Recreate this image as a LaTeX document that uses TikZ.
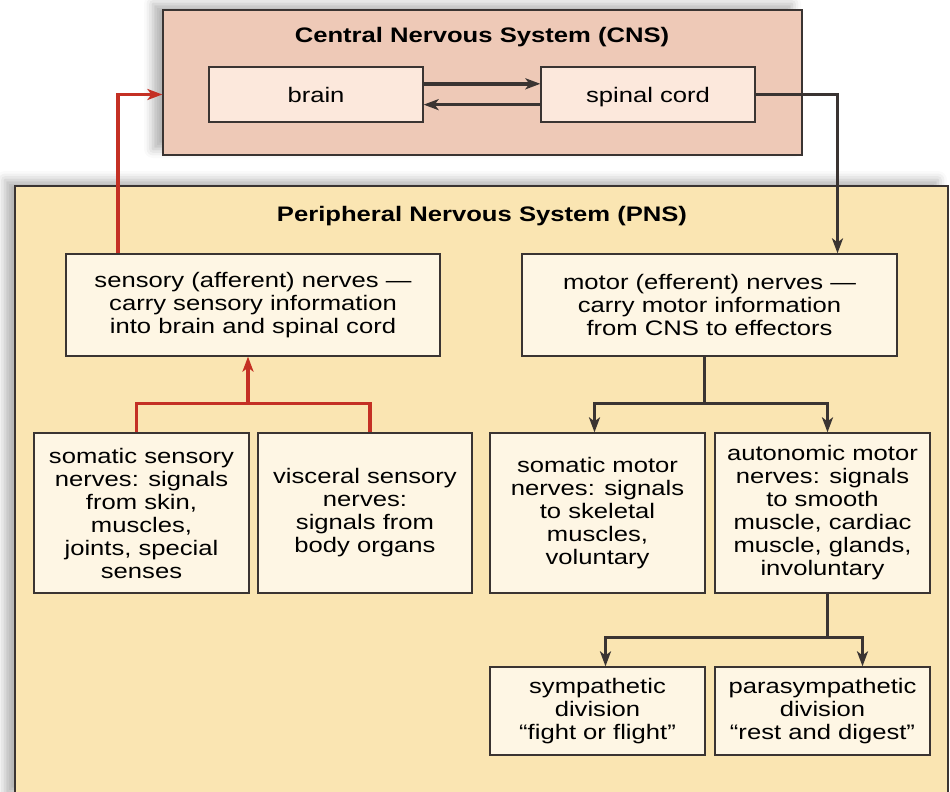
\documentclass[tikz,border=0pt]{standalone}
\usepackage{fontspec}
\setmainfont{Liberation Sans}[FakeStretch=1.22]
\usetikzlibrary{arrows.meta,calc,shadows.blur}

\definecolor{cnsfill}{RGB}{238,201,183}
\definecolor{cnsbox}{RGB}{252,232,220}
\definecolor{pnsfill}{RGB}{250,229,178}
\definecolor{pnsbox}{RGB}{254,246,228}
\definecolor{afferent}{RGB}{196,48,36}
\definecolor{edge}{RGB}{58,52,50}

\tikzset{every picture/.style={line width=1.3pt},
	panel/.style={draw=edge, line width=1.3pt, inner sep=0pt,
		blur shadow={shadow xshift=-10pt, shadow yshift=6pt, shadow blur radius=9pt, shadow opacity=30}},
	nervebox/.style={draw=edge, line width=1.3pt, fill=pnsbox, align=center, inner sep=0pt,
		minimum width=215pt, minimum height=160pt, font=\fontsize{21}{23}\selectfont},
	cordbox/.style={nervebox, fill=cnsbox, minimum width=214pt, minimum height=55pt, text height=18pt, text depth=2pt},
	panelttl/.style={font=\fontsize{21}{23}\selectfont\bfseries},
	tip/.style={-{Stealth[length=15pt,width=11pt,inset=4pt]}},
	tract/.style={draw=edge, line width=3.5pt, line join=miter},
	sensline/.style={draw=afferent, line width=3.2pt, line join=miter}}

\begin{document}
\begin{tikzpicture}[x=1pt,y=1pt,yscale=-1,xscale=1]
	\useasboundingbox (0,0) rectangle (950,792);
	\clip (0,0) rectangle (950,792);

	%Shape: Rectangle [CNS]
	\node [panel, fill=cnsfill, minimum width=639pt, minimum height=145pt] (cns) at (482.5,82.5) {};
	%Shape: Rectangle [PNS]
	\node [panel, fill=pnsfill, minimum width=933pt, minimum height=614pt] (pns) at (481.5,493) {};

	% Text Node
	\node [panelttl] (cnsttl) at (482,37) {Central Nervous System (CNS)};
	% Text Node
	\node [panelttl] (pnsttl) at (482,216) {Peripheral Nervous System (PNS)};

	%Shape: Rectangle [brain, spinal cord]
	\node [cordbox] (brain) at (316,94.5) {brain};
	\node [cordbox] (spinal) at (648,94.5) {spinal cord};

	%Shape: Rectangle [sensory, motor]
	\node [nervebox, minimum width=374pt, minimum height=102pt] (sensory) at (253,305) {sensory (afferent) nerves ---\\carry sensory information\\into brain and spinal cord};
	\node [nervebox, minimum width=375pt, minimum height=102pt] (motor) at (709.5,305) {motor (efferent) nerves ---\\carry motor information\\from CNS to effectors};

	%Shape: Rectangle [divisions]
	\node [nervebox] (somsens) at (141.5,513) {somatic sensory\\nerves: signals\\from skin,\\muscles,\\joints, special\\senses};
	\node [nervebox, minimum width=214pt] (vissens) at (365,513) {visceral sensory\\nerves:\\signals from\\body organs};
	\node [nervebox] (sommot) at (597.5,513) {somatic motor\\nerves: signals\\to skeletal\\muscles,\\voluntary};
	\node [nervebox] (autmot) at (822.5,513) {autonomic motor\\nerves: signals\\to smooth\\muscle, cardiac\\muscle, glands,\\involuntary};

	%Shape: Rectangle [autonomic branches]
	\node [nervebox, minimum height=88pt] (symp) at (597.5,711) {sympathetic\\division\\``fight or flight''};
	\node [nervebox, minimum height=88pt] (parasymp) at (822.5,711) {parasympathetic\\division\\``rest and digest''};

	%Straight Lines [brain <-> spinal cord]
	\draw [tract, tip] ($(brain.north east)!0.31!(brain.south east)$) -- ($(spinal.north west)!0.31!(spinal.south west)$);
	\draw [tract, tip] ($(spinal.north west)!0.68!(spinal.south west)$) -- ($(brain.north east)!0.68!(brain.south east)$);
	%Straight Lines [CNS -> motor]
	\draw [tract, tip] (spinal.east) -| ([xshift=128pt]motor.north);
	%Straight Lines [sensory -> CNS]
	\draw [sensline, tip] ([xshift=-135pt]sensory.north) |- (brain.west -| cns.west);

	%Straight Lines [sensory branches]
	\coordinate (sensj) at ($(sensory.south)+(-5,47)$);
	\draw [sensline] ([xshift=-5pt]somsens.north) |- (sensj) -| ([xshift=5pt]vissens.north);
	\draw [sensline, tip] (sensj) -- ([xshift=-5pt]sensory.south);

	%Straight Lines [motor branches]
	\coordinate (motj) at ($(motor.south)+(-5,47)$);
	\draw [tract] ([xshift=-5pt]motor.south) -- (motj);
	\draw [tract, tip] (motj) -| ([xshift=-3pt]sommot.north);
	\draw [tract, tip] (motj) -| ([xshift=5pt]autmot.north);

	%Straight Lines [autonomic branches]
	\coordinate (autj) at ($(autmot.south)+(5,44)$);
	\draw [tract] ([xshift=5pt]autmot.south) -- (autj);
	\draw [tract, tip] (autj) -| ([xshift=8pt]symp.north);
	\draw [tract, tip] (autj) -| ([xshift=40pt]parasymp.north);

\end{tikzpicture}
\end{document}
